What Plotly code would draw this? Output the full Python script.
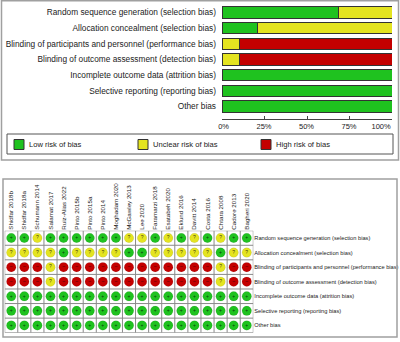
import plotly.graph_objects as go

# ---------------- data ----------------
studies = ["Shidfar 2018b", "Shidfar 2018a", "Schumann 2014", "Salamat 2017",
           "Ruiz-Alias 2022", "Pinto 2015b", "Pinto 2015a", "Pinto 2014",
           "Moghadam 2020", "McGawley 2013", "Lee 2020", "Faramarzi 2018",
           "Esatabeh 2020", "Eklund 2016", "Davitt 2014", "Costa 2016",
           "Chtara 2008", "Cadore 2013", "Bagheri 2020"]

domains = ["Random sequence generation (selection bias)",
           "Allocation concealment (selection bias)",
           "Blinding of participants and personnel (performance bias)",
           "Blinding of outcome assessment (detection bias)",
           "Incomplete outcome data (attrition bias)",
           "Selective reporting (reporting bias)",
           "Other bias"]

# judgements per domain: L = low, U = unclear, H = high (one per study)
random_sequence = list("LLULLLLLLUULULULULL")
allocation      = list("UUUULUUUULLUUUUULUU")
blind_partic    = list("HHHUHHHHHHHHHHHHUHH")
blind_outcome   = list("HHHUHHHHHHHHHHHHUHH")
incomplete      = list("LLLLLLLLLLLLLLLLLLL")
selective       = list("LLLLLLLLLLLLLLLLLLL")
other_bias      = list("LLLLLLLLLLLLLLLLLLL")
judgements = [random_sequence, allocation, blind_partic, blind_outcome,
              incomplete, selective, other_bias]

levels = ["L", "U", "H"]
level_names = ["Low risk of bias", "Unclear risk of bias", "High risk of bias"]
pct_ticks = [0, 25, 50, 75, 100]
pct_labels = ["0%", "25%", "50%", "75%", "100%"]

# ---------------- style ----------------
W, H = 400, 342
GREEN, YELLOW, RED = "#1FC21F", "#E4E420", "#C40000"
colors = {"L": GREEN, "U": YELLOW, "H": RED}
symbols = {"L": "+", "U": "?", "H": "–"}
FONT = "Liberation Sans, Arial, sans-serif"
NB = "\u00a0"
# last label pulled inside the axis span, as in the reference
pct_text = pct_labels[:4] + [pct_labels[4] + NB * 4]


def px(x):
    return x / W


def py(y):
    return 1 - y / H


fig = go.Figure()

# ---------------- top: stacked percentage bars ----------------
n = len(studies)
for lv, name in zip(levels, level_names):
    vals = [100.0 * row.count(lv) / n for row in judgements]
    fig.add_trace(go.Bar(
        y=domains, x=vals, orientation="h", name=name,
        marker=dict(color=colors[lv], line=dict(color="#333333", width=1)),
        xaxis="x", yaxis="y", showlegend=False, hoverinfo="x+y"))

# ---------------- bottom: traffic-light grid ----------------
for lv in levels:
    xs, ys, ts = [], [], []
    for i, row in enumerate(judgements):
        for j, v in enumerate(row):
            if v == lv:
                xs.append(j)
                ys.append(i)
                ts.append(symbols[lv])
    fig.add_trace(go.Scatter(
        x=xs, y=ys, mode="markers+text", text=ts,
        textposition="middle center",
        textfont=dict(size=5, color="rgba(0,0,0,0.75)", family=FONT),
        marker=dict(size=9.5, color=colors[lv],
                    line=dict(color="rgba(0,0,0,0.15)", width=0.5)),
        xaxis="x2", yaxis="y2", showlegend=False, hoverinfo="skip"))

shapes = []
# grid lines (in data coordinates of the grid axes)
for j in range(n + 1):
    shapes.append(dict(type="line", xref="x2", yref="y2",
                       x0=j - 0.5, x1=j - 0.5, y0=-0.5, y1=len(domains) - 0.5,
                       line=dict(color="#8a8a8a", width=1)))
for i in range(len(domains) + 1):
    shapes.append(dict(type="line", xref="x2", yref="y2",
                       x0=-0.5, x1=n - 0.5, y0=i - 0.5, y1=i - 0.5,
                       line=dict(color="#8a8a8a", width=1)))

# panel frames
shapes.append(dict(type="rect", xref="paper", yref="paper",
                   x0=px(1.5), x1=px(398.5), y0=py(160), y1=py(0.8),
                   line=dict(color="#a0a0a0", width=1.5)))
shapes.append(dict(type="rect", xref="paper", yref="paper",
                   x0=px(3), x1=px(397), y0=py(337), y1=py(179),
                   line=dict(color="#a0a0a0", width=1.5)))
# legend box
shapes.append(dict(type="rect", xref="paper", yref="paper",
                   x0=px(7), x1=px(393), y0=py(154), y1=py(134),
                   line=dict(color="#555555", width=1)))

annotations = []
legend_x = [14, 138, 261]
for lx, lv, name in zip(legend_x, levels, level_names):
    shapes.append(dict(type="rect", xref="paper", yref="paper",
                       x0=px(lx), x1=px(lx + 10), y0=py(149.5), y1=py(139.5),
                       fillcolor=colors[lv], line=dict(color="#333333", width=1)))
    annotations.append(dict(xref="paper", yref="paper", x=px(lx + 12.5), y=py(144.5),
                            text=name, showarrow=False, xanchor="left",
                            yanchor="middle",
                            font=dict(size=7.6, color="#222222", family=FONT)))

fig.update_layout(
    width=W, height=H, autosize=False,
    margin=dict(l=0, r=0, t=0, b=0, autoexpand=False),
    paper_bgcolor="white", plot_bgcolor="white",
    barmode="stack", bargap=0.28,
    font=dict(family=FONT, color="#222222"),
    shapes=shapes, annotations=annotations,
    xaxis=dict(domain=[px(222), px(392)], range=[0, 100], anchor="y",
               tickvals=pct_ticks, ticktext=pct_text, automargin=False,
               ticklabelposition="outside left", ticklabelshift=8,
               ticklabeloverflow="allow",
               ticks="inside", ticklen=3, tickcolor="#444444",
               showline=True, linecolor="#444444", linewidth=1,
               showgrid=False, zeroline=False,
               tickfont=dict(size=7.5, color="#222222")),
    yaxis=dict(domain=[py(119), py(4.67)], type="category", automargin=False,
               categoryarray=domains, range=[6.8, -0.5], anchor="x",
               showgrid=False, zeroline=False, showline=False, ticks="",
               ticklabelstandoff=5,
               tickfont=dict(size=8.3, color="#222222")),
    xaxis2=dict(domain=[px(4.7), px(253.3)], range=[-0.5, n - 0.5],
                anchor="y2", side="top", automargin=False,
                tickvals=list(range(n)), ticktext=studies, tickangle=-90,
                showgrid=False, zeroline=False, showline=False, ticks="",
                tickfont=dict(size=6.2, color="#222222")),
    yaxis2=dict(domain=[py(332.7), py(230.7)], range=[len(domains) - 0.5, -0.5],
                anchor="x2", side="right", automargin=False,
                tickvals=list(range(len(domains))), ticktext=domains,
                showgrid=False, zeroline=False, showline=False, ticks="",
                tickfont=dict(size=5.7, color="#222222")),
)

fig.write_html("out.html", config={"displayModeBar": False},
               post_script="document.body.style.margin='0';")
